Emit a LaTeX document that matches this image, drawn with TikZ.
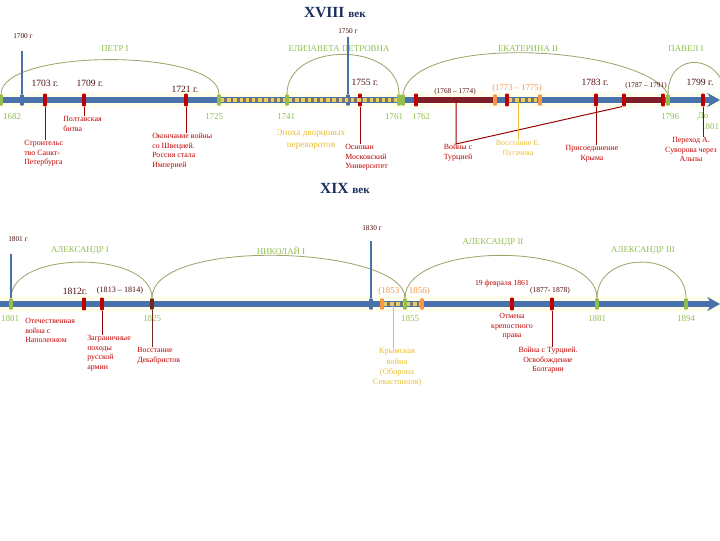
\documentclass[tikz,border=0pt]{standalone}
\usepackage{fontspec}
\setmainfont{Liberation Serif}
\usepackage{tikz}
\usetikzlibrary{arrows.meta}

\definecolor{tlblue}{RGB}{74,114,170}
\definecolor{tlred}{RGB}{192,0,0}
\definecolor{tldark}{RGB}{75,10,10}
\definecolor{tlgreen}{RGB}{146,190,80}
\definecolor{tlarc}{RGB}{160,165,110}
\definecolor{tlorange}{RGB}{247,150,70}
\definecolor{tlgold}{RGB}{236,190,45}
\definecolor{tlcream}{RGB}{232,205,100}
\definecolor{tlnavy}{RGB}{25,45,95}
\definecolor{tlwar}{RGB}{125,30,40}
\definecolor{tlgrey}{RGB}{125,118,100}
\definecolor{tlbrown}{RGB}{110,40,30}

\tikzset{
    axisline/.style={line width=4pt, tlblue, -{Stealth[length=9pt,width=10pt]}},
    glowband/.style={line width=11pt, yellow!7},
    epoch/.style={line width=3.5pt, draw=tlgrey,
        postaction={draw=tlcream, line width=2.4pt, dash pattern=on 2.4pt off 2pt}},
    warseg/.style={line width=3.6pt, tlwar},
    tickbox/.style={inner sep=0pt, minimum width=2.6pt, minimum height=8pt, rounded corners=0.6pt},
    tickred/.style={tickbox, fill=tlred, minimum height=9pt},
    tickgreen/.style={tickbox, fill=tlgreen},
    tickblue/.style={tickbox, fill=tlblue},
    tickorange/.style={tickbox, fill=tlorange},
    tickbrown/.style={tickbox, fill=tlbrown},
    reign/.style={tlarc, line width=0.6pt},
    evline/.style={tlred!80!black, line width=0.7pt},
    goldline/.style={tlgold, line width=0.7pt},
    blueline/.style={tlblue, line width=0.8pt},
    titlelbl/.style={inner sep=0pt, text=tlnavy, font=\fontsize{11}{12}\selectfont\bfseries},
    reignlbl/.style={inner sep=0pt, text=tlgreen, font=\fontsize{6.3}{7.5}\selectfont},
    yearlbl/.style={inner sep=0pt, text=tldark, font=\fontsize{6.8}{8}\selectfont},
    periodlbl/.style={inner sep=0pt, text=tldark, font=\fontsize{5.2}{6}\selectfont},
    greenyr/.style={inner sep=0pt, text=tlgreen, font=\fontsize{6.4}{7.5}\selectfont},
    eventlbl/.style={inner sep=0pt, text=tlred, align=left, font=\fontsize{5.6}{6.8}\selectfont},
    goldlbl/.style={inner sep=0pt, text=tlgold, align=center, font=\fontsize{6}{7.2}\selectfont},
}

\begin{document}
\begin{tikzpicture}[x=0.025cm,y=-0.025cm]
    \useasboundingbox (0,0) rectangle (720,540);

    % Titles
    \node[titlelbl] (t18) at (335,13) {XVIII {\fontsize{8}{9}\selectfont век}};
    \node[titlelbl] (t19) at (345,188) {XIX {\fontsize{8}{9}\selectfont век}};

    % XVIII century axis
    \coordinate (top0) at (0,100);
    \coordinate (top1) at (720,100);
    \draw[glowband] (top0) -- (top1);
    \draw[axisline] (top0) -- (top1);

    % XVIII ticks
    \node[tickgreen] (m1682) at (1,100) {};
    \node[tickblue] (m1700) at (22,100) {};
    \node[tickred] (m1703) at (45,100) {};
    \node[tickred] (m1709) at (84,100) {};
    \node[tickred] (m1721) at (186,100) {};
    \node[tickgreen] (m1725) at (219,100) {};
    \node[tickgreen] (m1741) at (287,100) {};
    \node[tickblue] (m1750) at (348,100) {};
    \node[tickred] (m1755) at (360,100) {};
    \node[tickgreen] (m1761a) at (399,100) {};
    \node[tickgreen] (m1761b) at (403,100) {};
    \node[tickred] (m1762) at (416,100) {};
    \node[tickorange] (m1773a) at (495,100) {};
    \node[tickred] (m1773b) at (507,100) {};
    \node[tickorange] (m1775) at (540,100) {};
    \node[tickred] (m1783) at (596,100) {};
    \node[tickred] (m1787) at (624,100) {};
    \node[tickred] (m1791) at (663,100) {};
    \node[tickgreen] (m1796) at (668,100) {};
    \node[tickred] (m1799) at (703,100) {};
    \coordinate (c1768) at (456,100);
    \coordinate (c1774) at (518,100);
    \coordinate (c1801) at (726,100);

    % epochs and wars on the axis
    \draw[epoch] (m1725) -- (m1741);
    \draw[epoch] (m1741) -- (m1761a);
    \draw[epoch] (m1773b) -- (m1775);
    \draw[warseg] (m1762) -- (m1773a);
    \draw[warseg] (m1787) -- (m1791);

    % Reigns
    \draw[reign] (m1682.north) .. controls +(0,-46) and +(0,-46) .. (m1725.north);
    \draw[reign] (m1741.north) .. controls +(0,-53) and +(0,-53) .. (m1761a.north);
    \draw[reign] (m1761b.north) .. controls +(10,-62) and +(-25,-48) .. (m1796.north);
    \draw[reign] (m1796.north) .. controls +(0,-46) and +(0,-46) .. (c1801);
    \node[reignlbl] (nPeter) at (115,49) {ПЕТР I};
    \node[reignlbl] (nElizaveta) at (339,49) {ЕЛИЗАВЕТА ПЕТРОВНА};
    \node[reignlbl] (nEkaterina) at (528,49) {ЕКАТЕРИНА II};
    \node[reignlbl] (nPavel) at (686,49) {ПАВЕЛ I};

    % Years above the axis
    \node[periodlbl] (l1700) at (23,36) {1700 г};
    \node[periodlbl] (l1750) at (348,31) {1750 г};
    \draw[blueline, shorten <=9pt] (l1700.south -| m1700) -- (m1700);
    \draw[blueline, shorten <=2pt] (l1750.south -| m1750) -- (m1750);
    \node[yearlbl] (y1703) at (45,83) {1703 г.};
    \node[yearlbl] (y1709) at (90,83) {1709 г.};
    \node[yearlbl] (y1721) at (185,89) {1721 г.};
    \node[yearlbl] (y1755) at (365,82) {1755 г.};
    \node[yearlbl] (y1783) at (595,82) {1783 г.};
    \node[yearlbl] (y1799) at (700,82) {1799 г.};
    \node[periodlbl] (p1768) at (455,92) {(1768 – 1774)};
    \node[periodlbl, text=tlorange, font=\fontsize{6.2}{7}\selectfont] (p1773) at (517,88) {(1773 – 1775)};
    \node[periodlbl] (p1787) at (646,86) {(1787 – 1791)};

    % Years below the axis
    \node[greenyr] (g1682) at (12,117) {1682};
    \node[greenyr] (g1725) at (214,117) {1725};
    \node[greenyr] (g1741) at (286,117) {1741};
    \node[greenyr] (g1761) at (394,117) {1761};
    \node[greenyr] (g1762) at (421,117) {1762};
    \node[greenyr] (g1796) at (670,117) {1796};
    \node[greenyr] (g1801a) at (703,117) {До};
    \node[greenyr] (g1801b) at (710,127) {1801};

    % XVIII events
    \node[eventlbl, anchor=north west] (e1703) at (24,140) {Строительс\\тво Санкт-\\Петербурга};
    \node[eventlbl, anchor=north west] (e1709) at (63,116) {Полтавская\\битва};
    \node[eventlbl, anchor=north west] (e1721) at (152,133) {Окончание войны\\со Швецией.\\Россия стала\\Империей};
    \node[goldlbl, font=\fontsize{6.5}{8.5}\selectfont] (e1725) at (311,139) {Эпоха дворцовых\\переворотов};
    \node[eventlbl, anchor=north west] (e1755) at (345,144) {Основан\\Московский\\Университет};
    \node[eventlbl, align=center, anchor=north] (e1768) at (458,144) {Войны с\\Турцией};
    \node[goldlbl, font=\fontsize{5.6}{7.4}\selectfont, anchor=north] (e1774) at (518,140) {Восстание Е.\\Пугачева};
    \node[eventlbl, align=center, anchor=north] (e1783) at (592,145) {Присоединение\\Крыма};
    \node[eventlbl, align=center, anchor=north] (e1799) at (691,137) {Переход А.\\Суворова через\\Альпы};
    \draw[evline] (m1703) -- (m1703 |- e1703.north);
    \draw[evline] (m1709) -- (m1709 |- e1709.north);
    \draw[evline] (m1721) -- (m1721 |- e1721.north);
    \draw[evline] (m1755) -- (m1755 |- e1755.north);
    \draw[evline] (c1768) -- (c1768 |- e1768.north) -- (m1787.south west);
    \draw[goldline] (c1774) -- (c1774 |- e1774.north);
    \draw[evline] (m1783) -- (m1783 |- e1783.north);
    \draw[evline] (m1799) -- (m1799 |- e1799.north);

    % XIX century axis
    \coordinate (bot0) at (0,304);
    \coordinate (bot1) at (720,304);
    \draw[glowband] (bot0) -- (bot1);
    \draw[axisline] (bot0) -- (bot1);

    % XIX ticks
    \node[tickgreen] (m1801) at (11,304) {};
    \node[tickred] (m1812) at (84,304) {};
    \node[tickred] (m1813) at (102,304) {};
    \node[tickbrown] (m1825) at (152,304) {};
    \node[tickblue] (m1830) at (371,304) {};
    \node[tickorange] (m1853) at (382,304) {};
    \node[tickgreen] (m1855) at (405,304) {};
    \node[tickorange] (m1856) at (422,304) {};
    \node[tickred] (m1861) at (512,304) {};
    \node[tickred] (m1877) at (552,304) {};
    \node[tickgreen] (m1881) at (597,304) {};
    \node[tickgreen] (m1894) at (686,304) {};
    \coordinate (c1854) at (393,304);

    % Crimean war on the axis
    \draw[epoch] (m1853) -- (m1855);
    \draw[epoch] (m1855) -- (m1856);

    % Reigns
    \draw[reign] (m1801.north) .. controls +(0,-48) and +(0,-48) .. (m1825.north);
    \draw[reign] (m1825.north) .. controls +(0,-62) and +(0,-52) .. (m1855.north);
    \draw[reign] (m1855.north) .. controls +(0,-57) and +(0,-57) .. (m1881.north);
    \draw[reign] (m1881.north) .. controls +(0,-48) and +(0,-48) .. (m1894.north);
    \node[reignlbl] (nAlex1) at (80,251) {АЛЕКСАНДР I};
    \node[reignlbl] (nNikolai) at (281,251) {НИКОЛАЙ I};
    \node[reignlbl] (nAlex2) at (493,243) {АЛЕКСАНДР  II};
    \node[reignlbl] (nAlex3) at (643,251) {АЛЕКСАНДР  III};

    % Years above the axis
    \node[periodlbl] (l1801) at (18,239) {1801 г};
    \node[periodlbl] (l1830) at (372,228) {1830 г};
    \draw[blueline, shorten <=9pt] (l1801.south -| m1801) -- (m1801);
    \draw[blueline, shorten <=7pt] (l1830.south -| m1830) -- (m1830);
    \node[yearlbl] (y1812) at (75,291) {1812г.};
    \node[periodlbl, font=\fontsize{5.8}{7}\selectfont] (p1813) at (120,291) {(1813 – 1814)};
    \node[periodlbl, text=tlorange, font=\fontsize{6.4}{7}\selectfont] (p1853) at (404,291) {(1853 \;\; 1856)};
    \node[periodlbl, text=tlred, font=\fontsize{5.5}{7}\selectfont] (p1861) at (502,284) {19 февраля 1861};
    \node[periodlbl, font=\fontsize{5.4}{7}\selectfont] (p1877) at (550,291) {(1877- 1878)};

    % Years below the axis
    \node[greenyr] (g1801) at (10,319) {1801};
    \node[greenyr] (g1825) at (152,319) {1825};
    \node[greenyr] (g1855) at (410,319) {1855};
    \node[greenyr] (g1881) at (597,319) {1881};
    \node[greenyr] (g1894) at (686,319) {1894};

    % XIX events
    \node[eventlbl, anchor=north west] (e1812) at (25,318) {Отечественная\\война с\\Наполеоном};
    \node[eventlbl, anchor=north west] (e1813) at (87,335) {Заграничные\\походы\\русской\\армии};
    \node[eventlbl, anchor=north west] (e1825) at (137,347) {Восстание\\Декабристов};
    \node[goldlbl, font=\fontsize{6}{7.3}\selectfont, anchor=north] (e1854) at (397,348) {Крымская\\война\\(Оборона\\Севастополя)};
    \node[eventlbl, align=center, anchor=north] (e1861) at (512,313) {Отмена\\крепостного\\права};
    \node[eventlbl, align=center, anchor=north] (e1877) at (548,347) {Война с Турцией.\\Освобождение\\Болгарии};
    \draw[evline] (m1813) -- (m1813 |- e1813.north);
    \draw[evline, tlbrown] (m1825) -- (m1825 |- e1825.north);
    \draw[goldline] (c1854) -- (c1854 |- e1854.north);
    \draw[evline] (m1877) -- (m1877 |- e1877.north);
\end{tikzpicture}
\end{document}
